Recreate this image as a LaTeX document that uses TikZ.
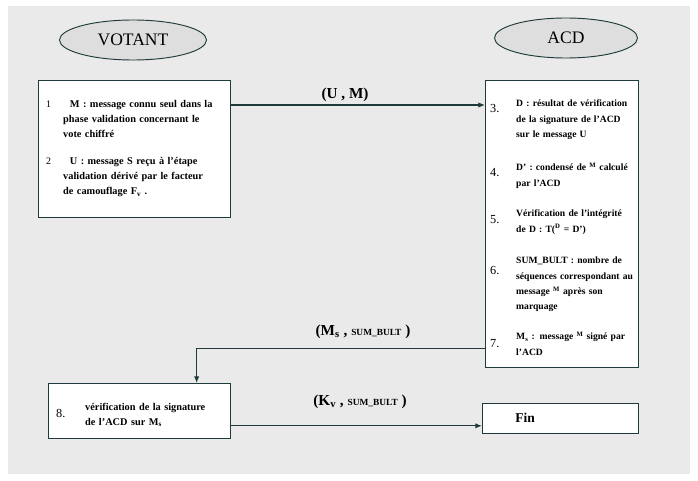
\documentclass[tikz,border=0pt]{standalone}
\usepackage{fontspec}
\setmainfont{Liberation Serif}
\usetikzlibrary{arrows.meta,positioning,shapes.geometric,calc}
\definecolor{flowLine}{HTML}{1E3A3A}
\definecolor{pageGray}{HTML}{EAEAEA}
\definecolor{actorFill}{HTML}{DEDEDE}

\begin{document}
\begin{tikzpicture}[
        x=0.03cm, y=-0.03cm,
        actor/.style={
            ellipse,
            draw=flowLine,
            thick,
            fill=actorFill,
            minimum height=1.2cm,
            font=\fontsize{15}{17}\selectfont
        },
        stepbox/.style={
            draw=flowLine,
            line width=1.1pt,
            fill=white,
            anchor=north west,
            inner sep=0pt
        },
        itemnum/.style={
            anchor=base west,
            inner sep=0pt,
            font=\fontsize{10.5}{12}\selectfont
        },
        itemtext/.style={
            anchor=north west,
            inner sep=0pt,
            align=left,
            font=\fontsize{8.8}{13}\selectfont\bfseries
        },
        acdtext/.style={
            itemtext,
            text width=4cm,
            font=\fontsize{8.2}{13}\selectfont\bfseries
        },
        msg/.style={
            font=\fontsize{13}{15}\selectfont\bfseries
        },
        arrow/.style={
            -{Latex[length=2mm,width=1.6mm]},
            line width=1pt,
            draw=flowLine
        }
    ]
    \newcommand{\sumbult}{{\fontsize{8}{9}\selectfont SUM\_BULT}}

    \fill[white] (0,0) rectangle (698,481);
    \fill[pageGray] (8,6) rectangle (690,474);
    \useasboundingbox (0,0) rectangle (698,481);

    % acteurs
    \node[actor, minimum width=4.41cm] (votant) at (133,40) {VOTANT};
    \node[actor, minimum width=4.29cm] (acd) at (566,38) {ACD};

    % cote votant
    \node[stepbox, minimum width=5.76cm, minimum height=4.11cm] (votbox) at (38,80) {};
    \node[itemnum, font=\fontsize{8.5}{10}\selectfont] (n1) at (46,108) {1};
    \node[itemtext, text width=5.2cm] (t1) at (63,100)
        {\hspace*{0.2cm}M : message connu seul dans la\\
         phase validation concernant le\\
         vote chiffré};
    \node[itemnum, font=\fontsize{8.5}{10}\selectfont] (n2) at (46,165) {2};
    \node[itemtext, text width=5.2cm] (t2) at (63,157)
        {\hspace*{0.2cm}U : message S reçu à l'étape\\
         validation dérivé par le facteur\\
         de camouflage F\textsubscript{v} .};

    % cote ACD
    \node[stepbox, minimum width=4.59cm, minimum height=8.61cm] (acdbox) at (485,80) {};
    \node[itemnum] (n3) at (490,113) {3.};
    \node[acdtext] (t3) at (516,100)
        {D : résultat de vérification\\
         de la signature de l'ACD\\
         sur le message U};
    \node[itemnum] (n4) at (490,177) {4.};
    \node[acdtext] (t4) at (516,163)
        {D' : condensé de \textsuperscript{M} calculé\\
         par l'ACD};
    \node[itemnum] (n5) at (490,223) {5.};
    \node[acdtext] (t5) at (516,210)
        {Vérification de l'intégrité\\
         de D : T(\textsuperscript{D} = D')};
    \node[itemnum] (n6) at (490,274) {6.};
    \node[acdtext] (t6) at (516,257)
        {SUM\_BULT : nombre de\\
         séquences correspondant au\\
         message \textsuperscript{M} après son\\
         marquage};
    \node[itemnum] (n7) at (490,347) {7.};
    \node[acdtext] (t7) at (516,332)
        {M\textsubscript{s} : message \textsuperscript{M} signé par\\
         l'ACD};

    % verification finale
    \node[stepbox, minimum width=5.46cm, minimum height=1.65cm] (verbox) at (48,383) {};
    \node[itemnum] (n8) at (56,417) {8.};
    \node[itemtext, text width=4.6cm] (t8) at (85,403)
        {vérification de la signature\\
         de l'ACD sur M\textsubscript{s}};

    \node[stepbox, minimum width=4.68cm, minimum height=0.9cm] (finbox) at (482,403) {};
    \node[font=\fontsize{11.5}{13}\selectfont\bfseries] (fin) at (525,418) {Fin};

    % messages
    \coordinate (umStart) at ([yshift=-0.75cm]votbox.north east);
    \draw[arrow] (umStart) -- (umStart -| acdbox.west);
    \node[msg] (umLabel) at (345,95) {(U , M)};

    \coordinate (msStart) at ([yshift=0.6cm]acdbox.south west);
    \coordinate (msEnd) at ([xshift=1.71cm]verbox.north);
    \draw[arrow] (msStart) -| (msEnd);
    \node[msg] (msLabel) at (363,332) {(M\textsubscript{s} , \sumbult\ )};

    \coordinate (kvStart) at ([yshift=-0.44cm]verbox.east);
    \draw[arrow] (kvStart) -- (kvStart -| finbox.west);
    \node[msg] (kvLabel) at (360,402) {(K\textsubscript{v} , \sumbult\ )};

\end{tikzpicture}
\end{document}
